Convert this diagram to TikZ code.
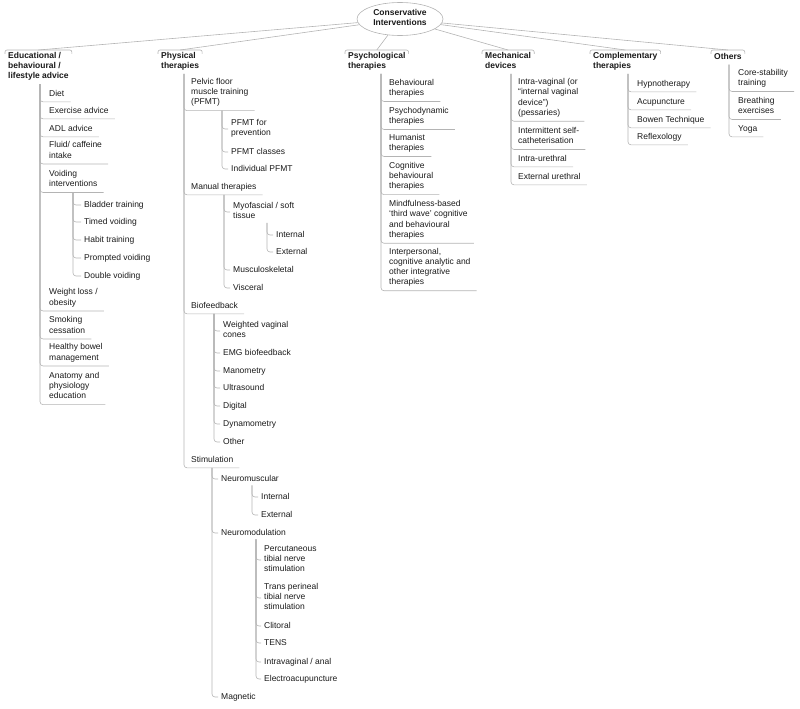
\documentclass[tikz,border=0pt]{standalone}
\usepackage{fontspec}
\setmainfont{Liberation Sans}
\usepackage{tikz}
\usetikzlibrary{shapes.geometric}
\definecolor{linegray}{HTML}{B4B4B4}
\definecolor{textdark}{HTML}{1A1A1A}
\newcommand{\mapfont}{\fontsize{8.5}{10.3}\selectfont}

\begin{document}
\begin{tikzpicture}[x=1pt, y=-1pt,
      every node/.style={font=\mapfont, text=textdark, align=left,
                         execute at begin node=\strut, execute at end node=\strut},
      root/.style={ellipse, draw=linegray, line width=0.6pt, font=\mapfont\bfseries,
                   minimum width=86pt, minimum height=33pt, inner sep=0pt, align=center},
      head/.style={anchor=north west, font=\mapfont\bfseries, inner xsep=3pt, inner ysep=2pt},
      item/.style={anchor=west, inner xsep=0pt, inner ysep=2.5pt},
      leaf/.style={anchor=west, inner xsep=0pt, inner ysep=1pt},
      link/.style={draw=linegray, line width=0.6pt, rounded corners=3pt}
    ]
    \useasboundingbox (0,0) rectangle (800,709);

    \node[root] (root) at (400,19) {Conservative\\Interventions};

    \node[head] (edu)  at (5,50)   {Educational /\\behavioural /\\lifestyle advice};
    \node[head] (phy)  at (158,50) {Physical\\therapies};
    \node[head] (psy)  at (345,50) {Psychological\\therapies};
    \node[head] (mech) at (482,50) {Mechanical\\devices};
    \node[head] (comp) at (590,50) {Complementary\\therapies};
    \node[head] (oth)  at (711,50) {Others};

    \foreach \h in {edu,phy,psy,mech,comp,oth}{
      \draw[link] (root) -- (\h.north);
      \draw[link, rounded corners=2pt] ([yshift=-4pt]\h.north west) |- (\h.north)
        -| ([yshift=-4pt]\h.north east);
    }

    % educational / behavioural / lifestyle advice
    \coordinate (eduV) at ([xshift=35pt]edu.south west);
    \node[item] (diet)   at (49,94)    {Diet};
    \node[item] (exer)   at (49,111)   {Exercise advice};
    \node[item] (adl)    at (49,129)   {ADL advice};
    \node[item] (fluid)  at (49,151.5) {Fluid/ caffeine\\intake};
    \node[item] (void)   at (49,180)   {Voiding\\interventions};
    \node[item] (weight) at (49,298.5) {Weight loss /\\obesity};
    \node[item] (smoke)  at (49,326.5) {Smoking\\cessation};
    \node[item] (bowel)  at (49,353.5) {Healthy bowel\\management};
    \node[item] (anat)   at (49,387)   {Anatomy and\\physiology\\education};
    \foreach \n in {diet,exer,adl,fluid,void,weight,smoke,bowel,anat}
      \draw[link] (eduV) |- ([xshift=6pt]\n.south east);

    \coordinate (voidV) at ([xshift=24pt]void.south west);
    \node[leaf] (bladder) at (84,205) {Bladder training};
    \node[leaf] (timed)   at (84,222) {Timed voiding};
    \node[leaf] (habit)   at (84,240) {Habit training};
    \node[leaf] (prompt)  at (84,258) {Prompted voiding};
    \node[leaf] (dbl)     at (84,276) {Double voiding};
    \foreach \n in {bladder,timed,habit,prompt,dbl}
      \draw[link] (voidV) |- ([xshift=-3pt]\n.west);

    % physical therapies
    \coordinate (phyV) at ([xshift=26pt]phy.south west);
    \node[item] (pfmt)   at (191,93)  {Pelvic floor\\muscle training\\(PFMT)};
    \node[item] (manual) at (191,187) {Manual therapies};
    \node[item] (bio)    at (191,306) {Biofeedback};
    \node[item] (stim)   at (191,460) {Stimulation};
    \foreach \n in {pfmt,manual,bio,stim}
      \draw[link] (phyV) |- ([xshift=6pt]\n.south east);

    \coordinate (pfmtV) at ([xshift=31pt]pfmt.south west);
    \node[leaf] (prev)  at (231,129) {PFMT for\\prevention};
    \node[leaf] (class) at (231,152) {PFMT classes};
    \node[leaf] (indiv) at (231,169) {Individual PFMT};
    \foreach \n in {prev,class,indiv}
      \draw[link] (pfmtV) |- ([xshift=-3pt]\n.west);

    \coordinate (manV) at ([xshift=33pt]manual.south west);
    \node[leaf] (myo)   at (233,212) {Myofascial / soft\\tissue};
    \node[leaf] (musc)  at (233,270) {Musculoskeletal};
    \node[leaf] (visc)  at (233,288) {Visceral};
    \foreach \n in {myo,musc,visc}
      \draw[link] (manV) |- ([xshift=-3pt]\n.west);

    \coordinate (myoV) at ([xshift=34pt]myo.south west);
    \node[leaf] (myoin)  at (276,235) {Internal};
    \node[leaf] (myoex)  at (276,252) {External};
    \foreach \n in {myoin,myoex}
      \draw[link] (myoV) |- ([xshift=-3pt]\n.west);

    \coordinate (bioV) at ([xshift=23pt]bio.south west);
    \node[leaf] (cones) at (223,331) {Weighted vaginal\\cones};
    \node[leaf] (emg)   at (223,353) {EMG biofeedback};
    \node[leaf] (mano)  at (223,371) {Manometry};
    \node[leaf] (ultra) at (223,388) {Ultrasound};
    \node[leaf] (digi)  at (223,406) {Digital};
    \node[leaf] (dyna)  at (223,424) {Dynamometry};
    \node[leaf] (other) at (223,442) {Other};
    \foreach \n in {cones,emg,mano,ultra,digi,dyna,other}
      \draw[link] (bioV) |- ([xshift=-3pt]\n.west);

    \coordinate (stimV) at ([xshift=21pt]stim.south west);
    \node[leaf] (nm)   at (221,479) {Neuromuscular};
    \node[leaf] (nmod) at (221,533) {Neuromodulation};
    \node[leaf] (magn) at (221,697) {Magnetic};
    \foreach \n in {nm,nmod,magn}
      \draw[link] (stimV) |- ([xshift=-3pt]\n.west);

    \coordinate (nmV) at ([xshift=31pt]nm.south west);
    \node[leaf] (nmin) at (261,497) {Internal};
    \node[leaf] (nmex) at (261,515) {External};
    \foreach \n in {nmin,nmex}
      \draw[link] (nmV) |- ([xshift=-3pt]\n.west);

    \coordinate (nmodV) at ([xshift=35pt]nmod.south west);
    \node[leaf] (ptns)  at (264,560) {Percutaneous\\tibial nerve\\stimulation};
    \node[leaf] (ttns)  at (264,598) {Trans perineal\\tibial nerve\\stimulation};
    \node[leaf] (clit)  at (264,626) {Clitoral};
    \node[leaf] (tens)  at (264,643) {TENS};
    \node[leaf] (ivan)  at (264,662) {Intravaginal / anal};
    \node[leaf] (eacu)  at (264,679) {Electroacupuncture};
    \foreach \n in {ptns,ttns,clit,tens,ivan,eacu}
      \draw[link] (nmodV) |- ([xshift=-3pt]\n.west);

    % psychological therapies
    \coordinate (psyV) at ([xshift=36pt]psy.south west);
    \node[item] (behav) at (389,89)    {Behavioural\\therapies};
    \node[item] (psdyn) at (389,117)   {Psychodynamic\\therapies};
    \node[item] (human) at (389,144)   {Humanist\\therapies};
    \node[item] (cbt)   at (389,177)   {Cognitive\\behavioural\\therapies};
    \node[item] (mind)  at (389,220.5) {Mindfulness-based\\`third wave' cognitive\\and behavioural\\therapies};
    \node[item] (inter) at (389,268)   {Interpersonal,\\cognitive analytic and\\other integrative\\therapies};
    \foreach \n in {behav,psdyn,human,cbt,mind,inter}
      \draw[link] (psyV) |- ([xshift=6pt]\n.south east);

    % mechanical devices
    \coordinate (mechV) at ([xshift=29pt]mech.south west);
    \node[item] (ivag) at (518,98.5) {Intra-vaginal (or\\``internal vaginal\\device'')\\(pessaries)};
    \node[item] (isc)  at (518,137)  {Intermittent self-\\catheterisation};
    \node[item] (iure) at (518,159)  {Intra-urethral};
    \node[item] (eure) at (518,177)  {External urethral};
    \foreach \n in {ivag,isc,iure,eure}
      \draw[link] (mechV) |- ([xshift=6pt]\n.south east);

    % complementary therapies
    \coordinate (compV) at ([xshift=38pt]comp.south west);
    \node[item] (hyp)   at (637,84)  {Hypnotherapy};
    \node[item] (acu)   at (637,102) {Acupuncture};
    \node[item] (bowen) at (637,120) {Bowen Technique};
    \node[item] (refl)  at (637,137) {Reflexology};
    \foreach \n in {hyp,acu,bowen,refl}
      \draw[link] (compV) |- ([xshift=6pt]\n.south east);

    % others
    \coordinate (othV) at ([xshift=18pt]oth.south west);
    \node[item] (core)   at (738,79)  {Core-stability\\training};
    \node[item] (breath) at (738,107) {Breathing\\exercises};
    \node[item] (yoga)   at (738,129) {Yoga};
    \foreach \n in {core,breath,yoga}
      \draw[link] (othV) |- ([xshift=6pt]\n.south east);
  \end{tikzpicture}
\end{document}
